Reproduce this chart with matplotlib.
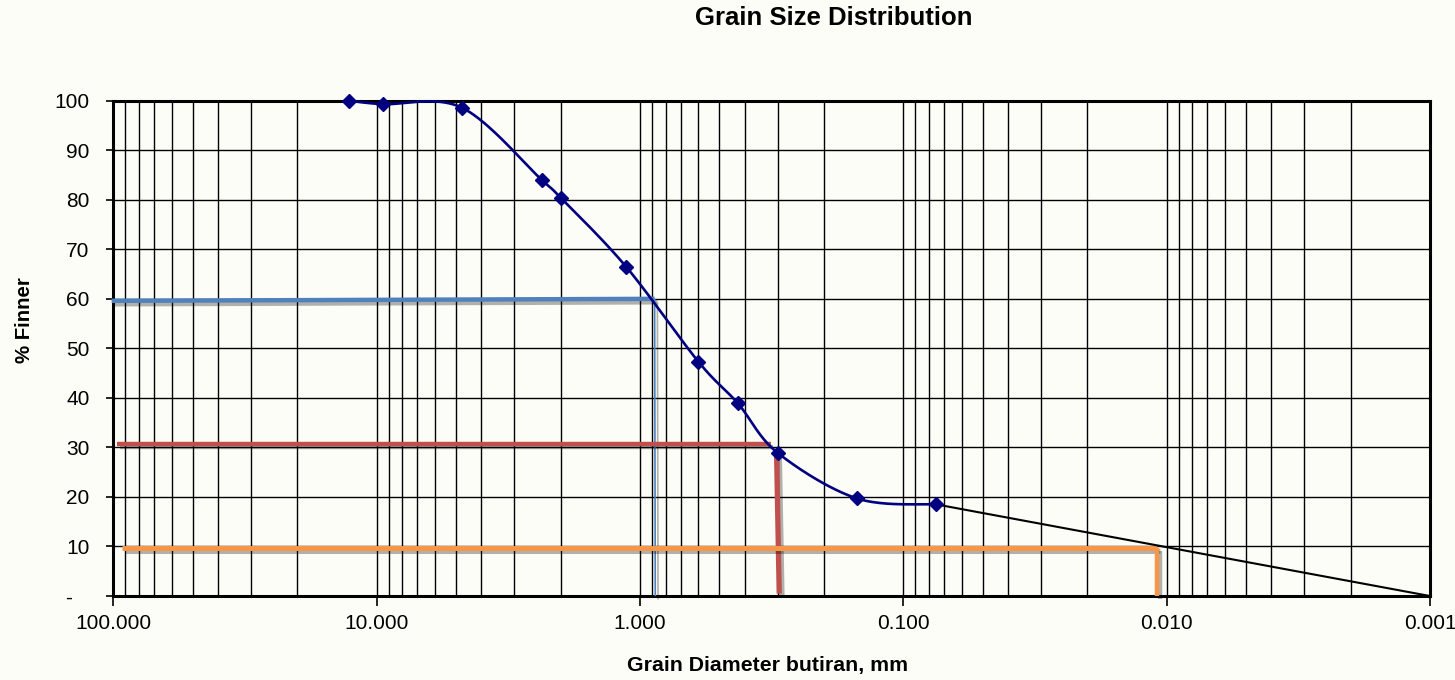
import numpy as np
import matplotlib
matplotlib.use('Agg')
import matplotlib.pyplot as plt
import matplotlib.patheffects as pe
from matplotlib.ticker import FixedLocator, FuncFormatter, LogLocator, NullFormatter

# ---- data ----
diameters = [12.7, 9.5, 4.75, 2.36, 2.0, 1.13, 0.6, 0.425, 0.3, 0.15, 0.075]
percent_finer = [100.0, 99.3, 98.6, 84.0, 80.4, 66.5, 47.3, 38.9, 28.9, 19.7, 18.5]

extrap_x = [0.075, 0.001]
extrap_y = [18.5, 0.0]

# D60 / D30 / D10 construction lines
d60_h_x = [101.5, 0.88]
d60_h_y = [59.6, 60.0]
d60_v_x = [0.88, 0.875]
d60_v_y = [60.0, 0.0]

d30_h_x = [96.6, 0.319]
d30_h_y = [30.7, 30.7]
d30_v_x = [0.303, 0.296]
d30_v_y = [29.1, 0.5]

d10_h_x = [92.9, 0.0109]
d10_h_y = [9.7, 9.7]
d10_v_x = [0.0109, 0.0109]
d10_v_y = [9.7, 0.0]

x_ticks = [100, 10, 1, 0.1, 0.01, 0.001]
y_ticks = [0, 10, 20, 30, 40, 50, 60, 70, 80, 90, 100]

title = "Grain Size Distribution"
x_label = "Grain Diameter butiran, mm"
y_label = "% Finner"


def excel_smooth(xs, ys, n=40):
    P = np.column_stack([np.log10(xs), np.asarray(ys, float)])
    segs = []
    for i in range(len(P) - 1):
        p0 = P[i - 1] if i > 0 else P[i]
        p1, p2 = P[i], P[i + 1]
        p3 = P[i + 2] if i + 2 < len(P) else P[i + 1]
        c1 = p1 + (p2 - p0) / 6.0
        c2 = p2 - (p3 - p1) / 6.0
        t = np.linspace(0, 1, n)[:, None]
        seg = ((1 - t) ** 3) * p1 + 3 * ((1 - t) ** 2) * t * c1 + 3 * (1 - t) * t ** 2 * c2 + t ** 3 * p2
        segs.append(seg if i == 0 else seg[1:])
    S = np.vstack(segs)
    return 10 ** S[:, 0], S[:, 1]


plt.rcParams['font.family'] = ['Liberation Sans', 'DejaVu Sans']

bg = '#fdfdf8'
fig = plt.figure(figsize=(14.55, 6.8), dpi=100, facecolor=bg)
ax = fig.add_axes([0.0779, 0.1235, 0.9049, 0.7284], facecolor=bg)

ax.set_xscale('log')
ax.set_xlim(100, 0.001)
ax.set_ylim(0, 100)

# grid
ax.xaxis.set_major_locator(FixedLocator(x_ticks))
ax.xaxis.set_minor_locator(LogLocator(base=10, subs=np.arange(2, 10)))
ax.xaxis.set_minor_formatter(NullFormatter())
ax.xaxis.set_major_formatter(FuncFormatter(lambda v, p: f"{v:.3f}"))
ax.yaxis.set_major_locator(FixedLocator(y_ticks))
ax.yaxis.set_major_formatter(FuncFormatter(lambda v, p: '-   ' if v == 0 else f"{int(v)}"))
ax.grid(True, which='major', axis='both', color='black', lw=1.0, zorder=1)
ax.grid(True, which='minor', axis='x', color='black', lw=1.0, zorder=1)
ax.set_axisbelow(True)

ax.tick_params(axis='both', which='major', direction='out', length=5, width=1.2,
               labelsize=15, colors='black')
ax.tick_params(axis='x', which='major', length=7, pad=6)
ax.tick_params(axis='y', which='major', pad=12)
ax.tick_params(axis='x', which='minor', length=0)

for s in ax.spines.values():
    s.set_linewidth(2.2)
    s.set_color('black')

shadow = [pe.SimpleLineShadow(offset=(2, -2.5), shadow_color='black', alpha=0.3), pe.Normal()]

def ref(xv, yv, color, lw):
    ax.plot(xv, yv, color=color, lw=lw, solid_capstyle='butt', zorder=3,
            clip_on=False, path_effects=shadow)

ref(d60_h_x, d60_h_y, '#4F81BD', 3.2)
ref(d60_v_x, d60_v_y, '#4F81BD', 1.2)
ref(d30_h_x, d30_h_y, '#C0504D', 3.2)
ref(d30_v_x, d30_v_y, '#C0504D', 3.8)
ref(d10_h_x, d10_h_y, '#F79646', 3.6)
ref(d10_v_x, d10_v_y, '#F79646', 3.2)

ax.plot(extrap_x, extrap_y, color='black', lw=1.5, zorder=4, clip_on=False)

sx, sy = excel_smooth(diameters, percent_finer)
ax.plot(sx, sy, color='#000080', lw=1.9, zorder=5, clip_on=False)
ax.plot(diameters, percent_finer, linestyle='none', marker='D', markersize=7.5,
        color='#000080', zorder=6, clip_on=False)

fig.text(834 / 1455, 1 - 18 / 680, title, ha='center', va='center',
         fontsize=18.5, fontweight='bold')
fig.text(767.5 / 1455, 1 - 666 / 680, x_label, ha='center', va='center',
         fontsize=15.3, fontweight='bold')
fig.text(25 / 1455, 1 - 320 / 680, y_label, ha='center', va='center',
         fontsize=14.7, fontweight='bold', rotation=90)

fig.savefig('out.png', dpi=100, facecolor=bg)
